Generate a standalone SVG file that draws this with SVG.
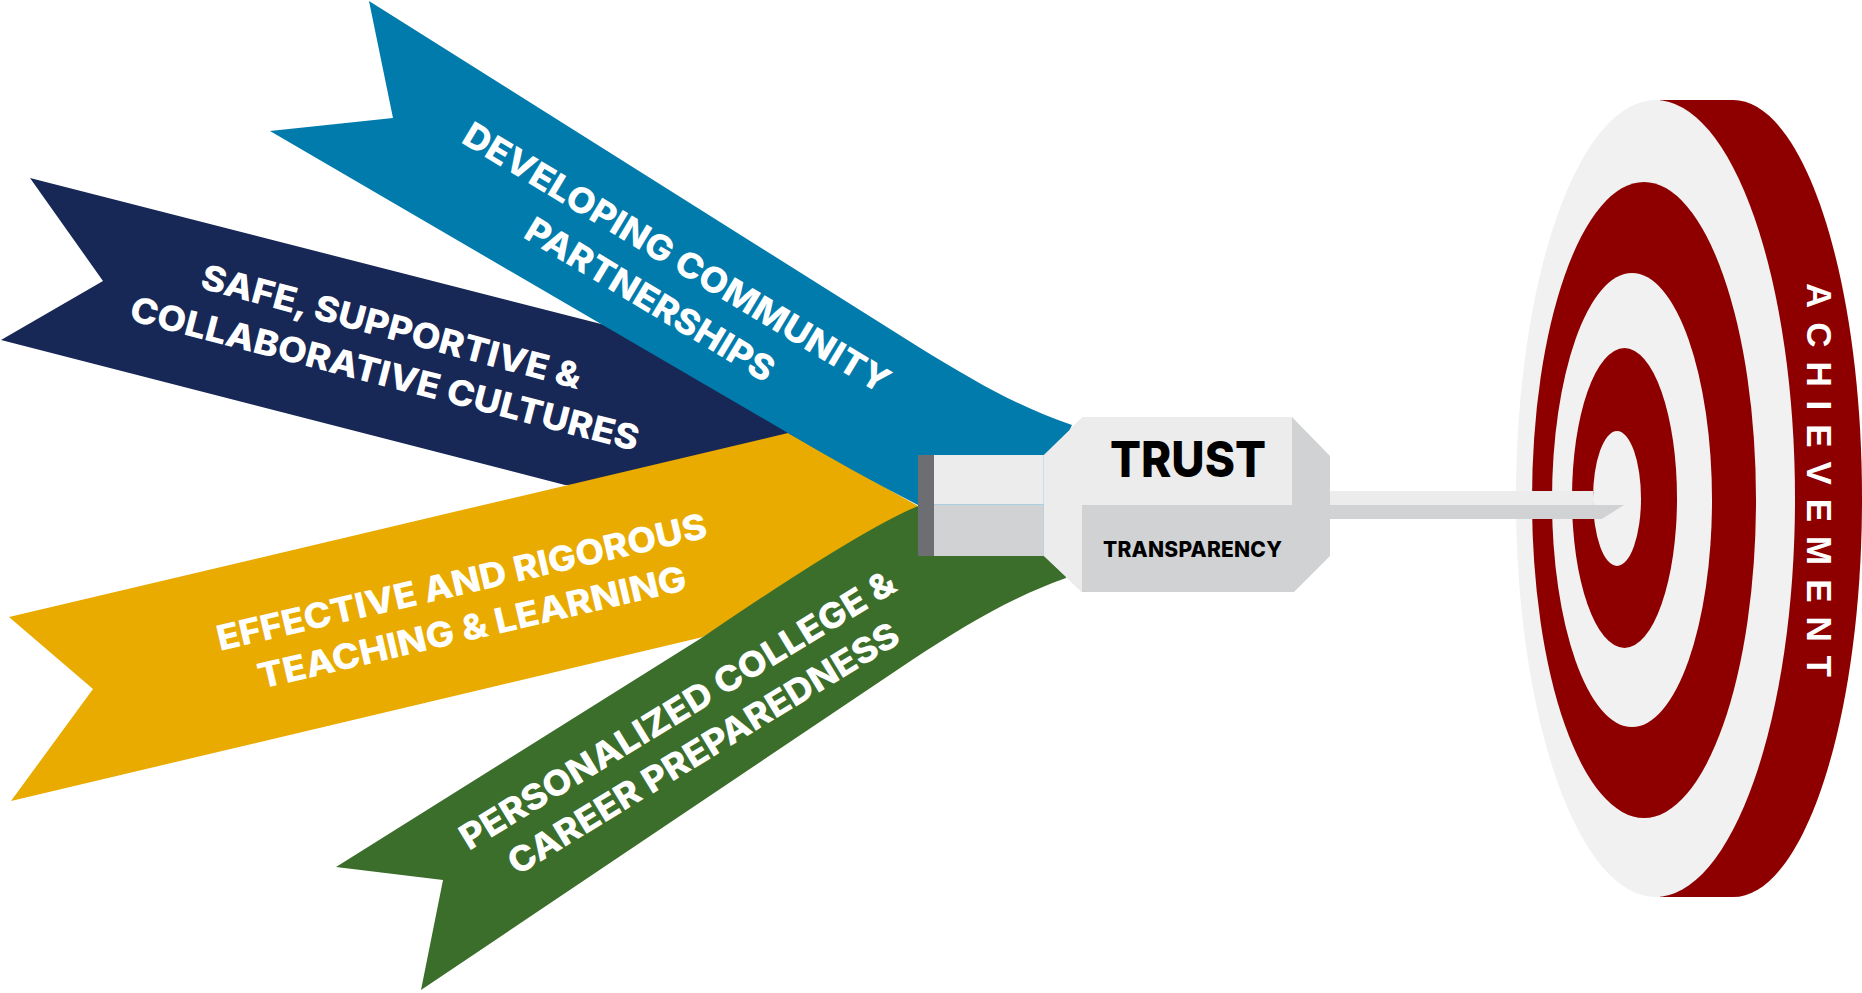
<svg xmlns="http://www.w3.org/2000/svg" width="1862" height="993" viewBox="0 0 1862 993">
<style>
.r{font-family:Inter,"Open Sans","Liberation Sans",sans-serif;font-weight:800;font-size:35px;fill:#fff}
.k{font-family:Inter,"Open Sans","Liberation Sans",sans-serif;font-weight:800;fill:#000}
.w{fill:#f1f1f2}.d{fill:#8e0000}
</style>
<rect width="1862" height="993" fill="#fff"/>
<g id="connectors"></g>
<g id="ribbon-cultures"><path d="M30 178L605 325L900 480L565 485L1 340L103 281Z" fill="#182856"/></g>
<g id="ribbon-teaching"><path d="M9 617L788 433L918 506L860 543Q780 590 703 637L11 801L93 689Z" fill="#e9ab00"/></g>
<g id="ribbon-partnerships"><path d="M369 1L917 346C980 385 1020 407 1072 425L1050 470L918 505Q850 470 788 433L270 131L393 118Z" fill="#007bac"/></g>
<g id="ribbon-college"><path d="M918 506Q860 530 703 637L336 867L443 880L421 990L912 660C965 625 1010 598 1066 578L1060 530Z" fill="#3b6e2a"/></g>
<g id="labels">
<text class="r" lengthAdjust="spacingAndGlyphs" transform="translate(460 142) rotate(31)" textLength="491">DEVELOPING COMMUNITY</text>
<text class="r" lengthAdjust="spacingAndGlyphs" transform="translate(522 237) rotate(31)" textLength="284">PARTNERSHIPS</text>
<text class="r" lengthAdjust="spacingAndGlyphs" transform="translate(199 288) rotate(15)" textLength="392">SAFE, SUPPORTIVE &amp;</text>
<text class="r" lengthAdjust="spacingAndGlyphs" transform="translate(128 320) rotate(14.500)" textLength="524">COLLABORATIVE CULTURES</text>
<text class="r" lengthAdjust="spacingAndGlyphs" transform="translate(220 651) rotate(-13.100)" textLength="502">EFFECTIVE AND RIGOROUS</text>
<text class="r" lengthAdjust="spacingAndGlyphs" transform="translate(261 689) rotate(-13.100)" textLength="439">TEACHING &amp; LEARNING</text>
<text class="r" lengthAdjust="spacingAndGlyphs" transform="translate(469 851) rotate(-31.300)" textLength="503">PERSONALIZED COLLEGE &amp;</text>
<text class="r" lengthAdjust="spacingAndGlyphs" transform="translate(517 876) rotate(-31.300)" textLength="451">CAREER PREPAREDNESS</text>
</g>
<g id="target">
<path class="d" d="M1660 100H1733C1804 100 1862 278 1862 498.500S1804 897 1733 897H1660Z"/>
<ellipse class="w" cx="1655.500" cy="498.500" rx="139.500" ry="398.500"/>
<ellipse class="d" cx="1644" cy="500" rx="112" ry="318"/>
<ellipse class="w" cx="1632" cy="500" rx="80" ry="227"/>
<ellipse class="d" cx="1624.500" cy="498" rx="52.500" ry="150"/>
<ellipse class="w" cx="1617" cy="498.500" rx="24" ry="67.500"/>
<text transform="translate(1807 283) rotate(90)" textLength="394" font-family="Liberation Sans,sans-serif" font-weight="700" font-size="35" fill="#fff">ACHIEVEMENT</text>
</g>
<g id="dart">
<path d="M1330 491H1593V505H1330Z" fill="#ececec"/>
<path d="M1330 505H1624L1602 519H1330Z" fill="#d1d2d4"/>
<rect x="918" y="455" width="16" height="101" fill="#6d6e71"/>
<rect x="934" y="455" width="110" height="49" fill="#ececec"/>
<rect x="934" y="504" width="110" height="52" fill="#d1d2d4"/>
<path d="M934 504.500H1044M1044 455V556" stroke="#a8d0e0" stroke-width="1" fill="none"/>
</g>
<g id="trust">
<path d="M1044 455L1083 417H1292L1330 456V556L1294 592H1082L1044 556Z" fill="#d1d2d4"/>
<path d="M1044 455L1083 417H1292V505H1082V592L1044 556Z" fill="#ececec"/>
<text class="k" x="1110" y="477" font-size="50" lengthAdjust="spacingAndGlyphs" textLength="156">TRUST</text>
<text class="k" x="1103" y="557" font-size="21" textLength="179">TRANSPARENCY</text>
</g>
</svg>
